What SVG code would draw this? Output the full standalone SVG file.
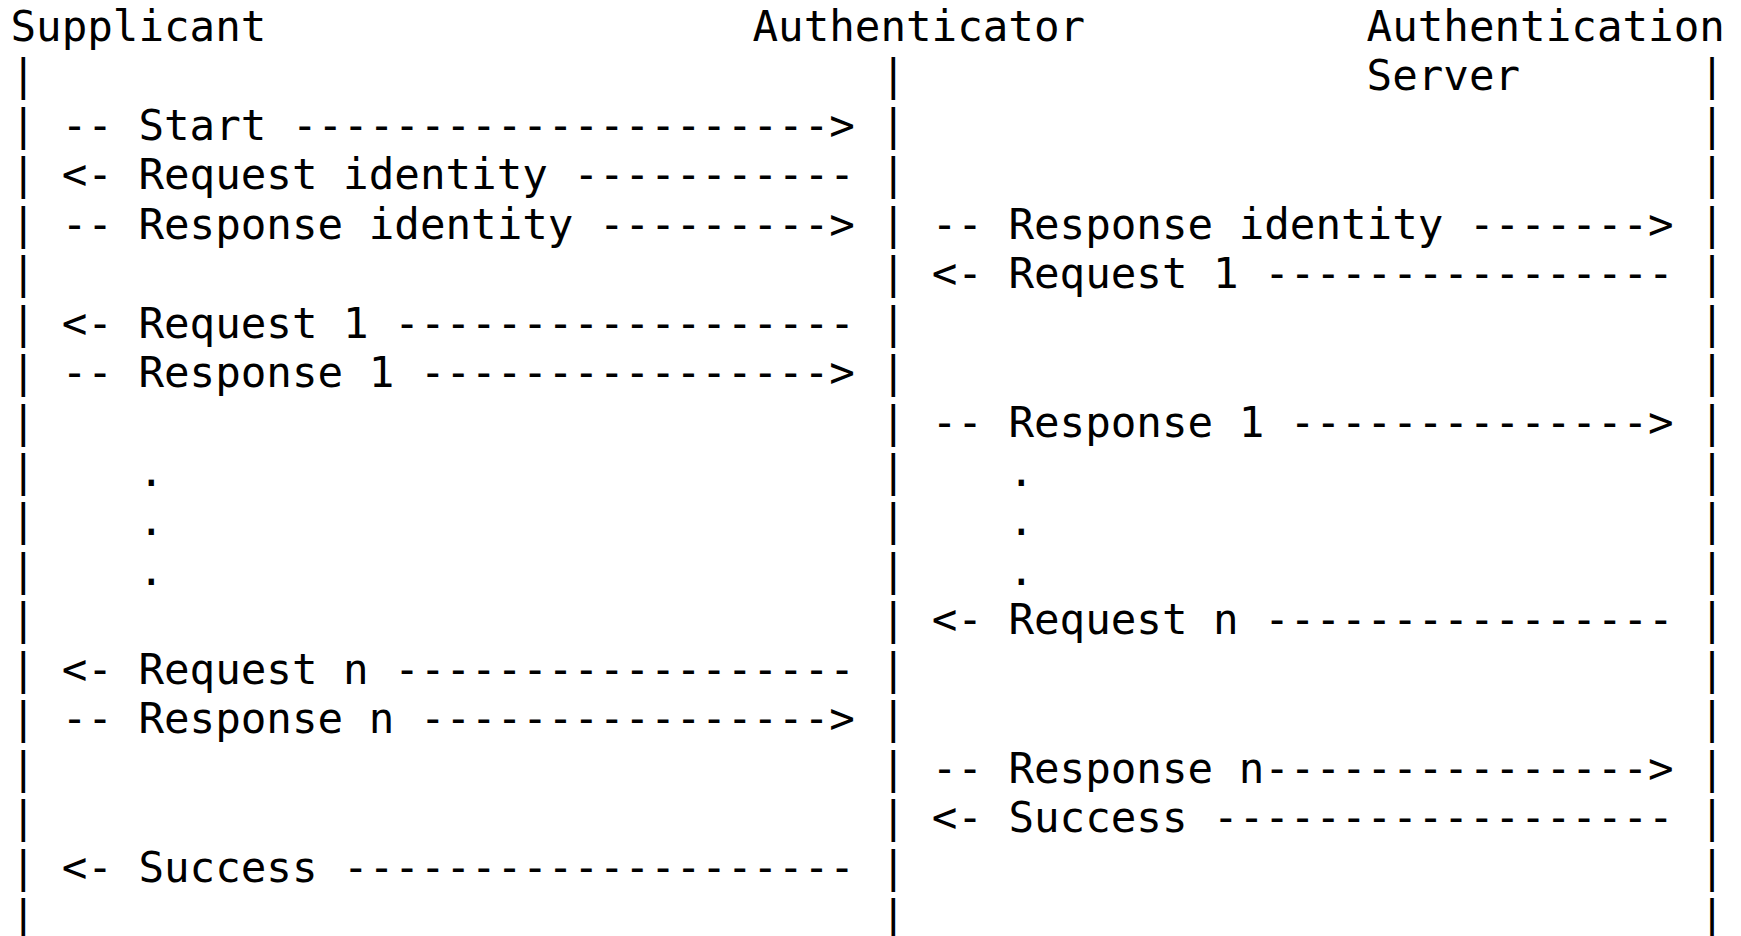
<svg xmlns="http://www.w3.org/2000/svg" width="1741" height="936" viewBox="0 0 1741 936">
  <style>
    text { font-family: "DejaVu Sans Mono", "Liberation Mono", monospace; font-size: 42.5px; fill: #000; white-space: pre; }
  </style>
  <rect width="1741" height="936" fill="#fff"/>

  <!-- Participant: Supplicant (column 0) -->
  <g id="supplicant">
    <text x="10.5" y="40.9">Supplicant</text>
    <text x="10.5" y="90.35">|</text>
    <text x="10.5" y="139.8">|</text>
    <text x="10.5" y="189.25">|</text>
    <text x="10.5" y="238.7">|</text>
    <text x="10.5" y="288.15">|</text>
    <text x="10.5" y="337.6">|</text>
    <text x="10.5" y="387.05">|</text>
    <text x="10.5" y="436.5">|</text>
    <text x="10.5" y="485.95">|</text>
    <text x="10.5" y="535.4">|</text>
    <text x="10.5" y="584.85">|</text>
    <text x="10.5" y="634.3">|</text>
    <text x="10.5" y="683.75">|</text>
    <text x="10.5" y="733.2">|</text>
    <text x="10.5" y="782.65">|</text>
    <text x="10.5" y="832.1">|</text>
    <text x="10.5" y="881.55">|</text>
    <text x="10.5" y="931">|</text>
  </g>

  <!-- Participant: Authenticator (column 34) -->
  <g id="authenticator">
    <text x="752.5" y="40.9">Authenticator</text>
    <text x="880.46" y="90.35">|</text>
    <text x="880.46" y="139.8">|</text>
    <text x="880.46" y="189.25">|</text>
    <text x="880.46" y="238.7">|</text>
    <text x="880.46" y="288.15">|</text>
    <text x="880.46" y="337.6">|</text>
    <text x="880.46" y="387.05">|</text>
    <text x="880.46" y="436.5">|</text>
    <text x="880.46" y="485.95">|</text>
    <text x="880.46" y="535.4">|</text>
    <text x="880.46" y="584.85">|</text>
    <text x="880.46" y="634.3">|</text>
    <text x="880.46" y="683.75">|</text>
    <text x="880.46" y="733.2">|</text>
    <text x="880.46" y="782.65">|</text>
    <text x="880.46" y="832.1">|</text>
    <text x="880.46" y="881.55">|</text>
    <text x="880.46" y="931">|</text>
  </g>

  <!-- Participant: Authentication Server (column 66) -->
  <g id="authentication-server">
    <text x="1366.6" y="40.9">Authentication</text>
    <text x="1366.6" y="90.35">Server</text>
    <text x="1699.24" y="90.35">|</text>
    <text x="1699.24" y="139.8">|</text>
    <text x="1699.24" y="189.25">|</text>
    <text x="1699.24" y="238.7">|</text>
    <text x="1699.24" y="288.15">|</text>
    <text x="1699.24" y="337.6">|</text>
    <text x="1699.24" y="387.05">|</text>
    <text x="1699.24" y="436.5">|</text>
    <text x="1699.24" y="485.95">|</text>
    <text x="1699.24" y="535.4">|</text>
    <text x="1699.24" y="584.85">|</text>
    <text x="1699.24" y="634.3">|</text>
    <text x="1699.24" y="683.75">|</text>
    <text x="1699.24" y="733.2">|</text>
    <text x="1699.24" y="782.65">|</text>
    <text x="1699.24" y="832.1">|</text>
    <text x="1699.24" y="881.55">|</text>
    <text x="1699.24" y="931">|</text>
  </g>

  <!-- Messages between participants -->
  <g id="connectors">
    <!-- Supplicant <-> Authenticator (columns 2..32) -->
    <text x="61.67" y="139.8">-- Start ---------------------&gt;</text>
    <text x="61.67" y="189.25">&lt;- Request identity -----------</text>
    <text x="61.67" y="238.7">-- Response identity ---------&gt;</text>
    <text x="61.67" y="337.6">&lt;- Request 1 ------------------</text>
    <text x="61.67" y="387.05">-- Response 1 ----------------&gt;</text>
    <text x="138.44" y="485.95">.</text>
    <text x="138.44" y="535.4">.</text>
    <text x="138.44" y="584.85">.</text>
    <text x="61.67" y="683.75">&lt;- Request n ------------------</text>
    <text x="61.67" y="733.2">-- Response n ----------------&gt;</text>
    <text x="61.67" y="881.55">&lt;- Success --------------------</text>

    <!-- Authenticator <-> Authentication Server (columns 36..64) -->
    <text x="931.63" y="238.7">-- Response identity -------&gt;</text>
    <text x="931.63" y="288.15">&lt;- Request 1 ----------------</text>
    <text x="931.63" y="436.5">-- Response 1 --------------&gt;</text>
    <text x="1008.4" y="485.95">.</text>
    <text x="1008.4" y="535.4">.</text>
    <text x="1008.4" y="584.85">.</text>
    <text x="931.63" y="634.3">&lt;- Request n ----------------</text>
    <text x="931.63" y="782.65">-- Response n---------------&gt;</text>
    <text x="931.63" y="832.1">&lt;- Success ------------------</text>
  </g>
</svg>
